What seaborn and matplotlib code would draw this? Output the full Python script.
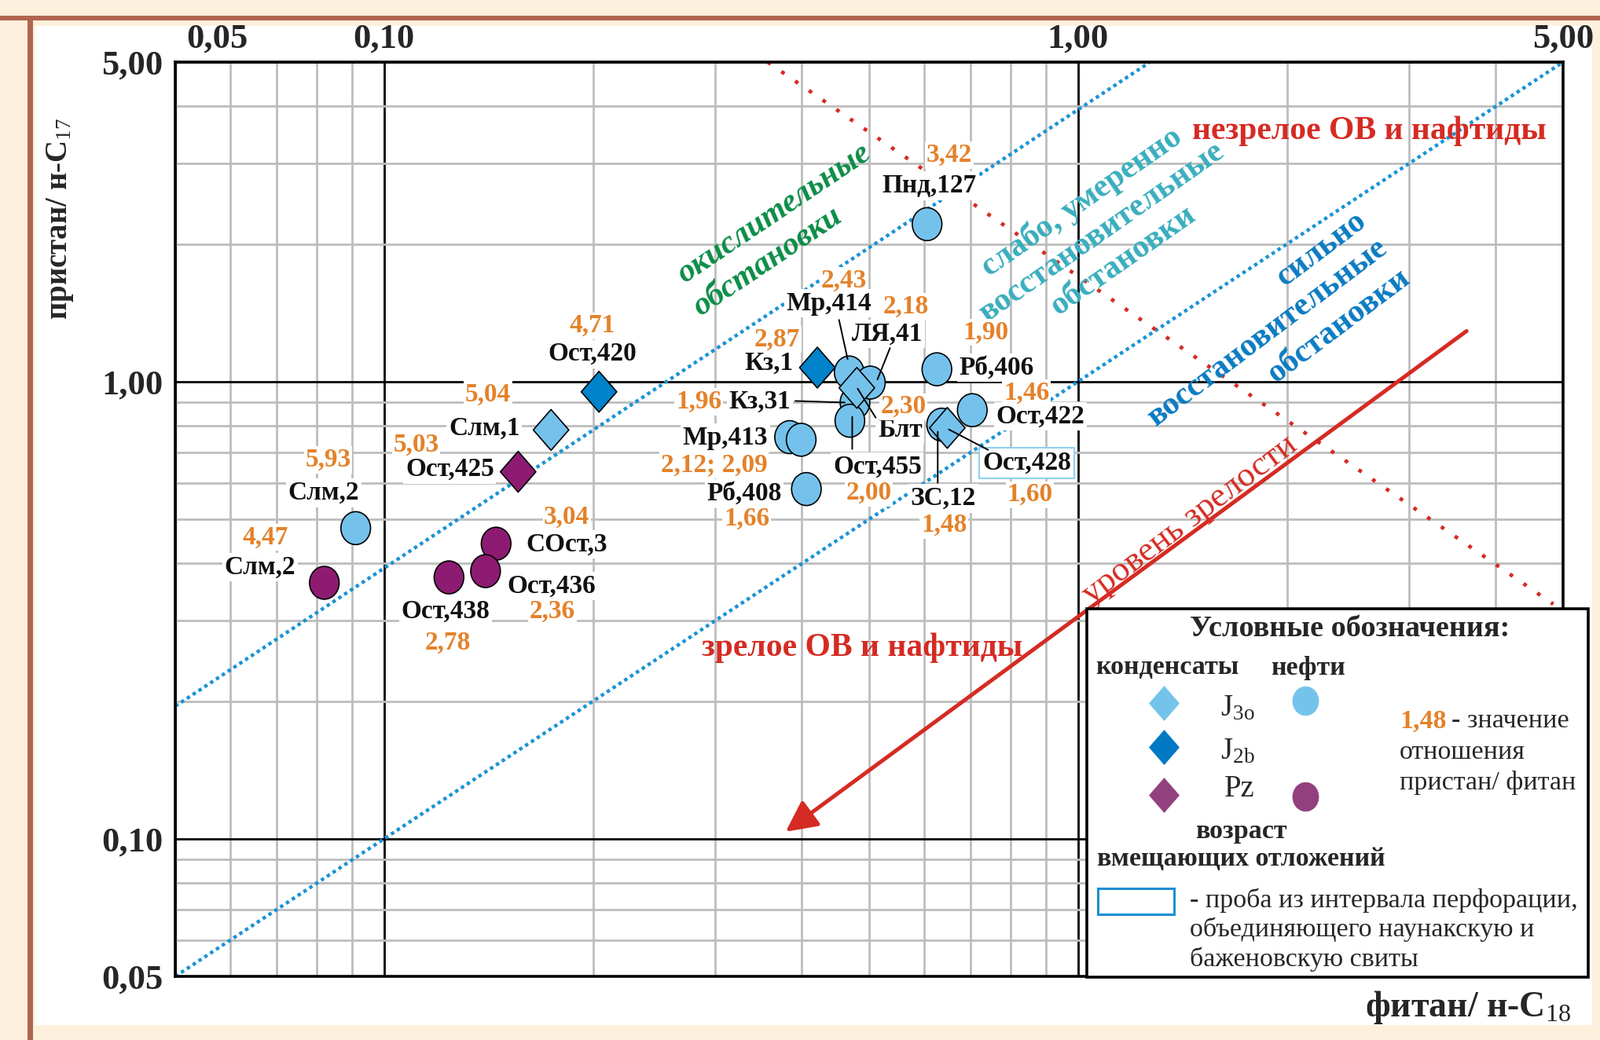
import pandas as pd
import seaborn as sns
import matplotlib.pyplot as plt
import matplotlib.transforms as mtransforms
from matplotlib.path import Path
from matplotlib.patches import Rectangle
from matplotlib.lines import Line2D

# ---- values ----
sample = ["Слм,2", "Слм,2", "Ост,425", "Слм,1", "Ост,420", "Ост,438", "СОст,3", "Ост,436",
          "Кз,1", "Мр,413", "Мр,413", "Рб,408", "Кз,31", "Ост,455", "Мр,414", "ЛЯ,41",
          "Блт", "Рб,406", "ЗС,12", "Ост,422", "Ост,428", "Пнд,127"]
phytane_c18 = [0.082, 0.091, 0.156, 0.174, 0.204, 0.124, 0.145, 0.140,
               0.421, 0.384, 0.399, 0.406, 0.477, 0.469, 0.468, 0.502,
               0.480, 0.626, 0.636, 0.704, 0.648, 0.606]
pristane_c17 = [0.363, 0.478, 0.635, 0.784, 0.950, 0.373, 0.442, 0.385,
                1.073, 0.756, 0.746, 0.582, 0.900, 0.821, 1.047, 0.995,
                0.969, 1.064, 0.805, 0.866, 0.792, 2.21]
pr_ph = [4.47, 5.93, 5.03, 5.04, 4.71, 2.78, 3.04, 2.36,
         2.87, 2.12, 2.09, 1.66, 1.96, 2.00, 2.43, 2.18,
         2.30, 1.90, 1.48, 1.46, 1.60, 3.42]
fluid = ["нефть", "нефть", "конденсат", "конденсат", "конденсат", "нефть", "нефть", "нефть",
         "конденсат", "нефть", "нефть", "нефть", "нефть", "нефть", "нефть", "нефть",
         "конденсат", "нефть", "нефть", "нефть", "конденсат", "нефть"]
age = ["Pz", "J3o", "Pz", "J3o", "J2b", "Pz", "Pz", "Pz",
       "J2b", "J3o", "J3o", "J3o", "J3o", "J3o", "J3o", "J3o",
       "J3o", "J3o", "J3o", "J3o", "J3o", "J3o"]

# boundary lines (end points)
oxic_x, oxic_y = [0.05, 1.27], [0.195, 5.0]
reduc_x, reduc_y = [0.05, 5.0], [0.05, 5.0]
mature_x, mature_y = [0.357, 4.84], [5.0, 0.326]
arrow_from, arrow_to = (3.63, 1.29), (0.379, 0.1036)

x_ticks = [0.05, 0.1, 1.0, 5.0]
x_tick_labels = ["0,05", "0,10", "1,00", "5,00"]
y_ticks = [0.05, 0.1, 1.0, 5.0]
y_tick_labels = ["0,05", "0,10", "1,00", "5,00"]
minor_ticks = [0.06, 0.07, 0.08, 0.09, 0.2, 0.3, 0.4, 0.5, 0.6, 0.7, 0.8, 0.9, 2, 3, 4]

df = pd.DataFrame({"sample": sample, "ph": phytane_c18, "pr": pristane_c17,
                   "ratio": pr_ph, "fluid": fluid, "age": age})

# ---- layout (pixel offsets of labels from their point, y downwards) ----
name_off = [(-82, -20), (-41, -45), (-87, -3), (-85, -2), (-8, -48), (-4, 43), (90, 1), (84, 19),
            (-62, -6), (-82, 1), None, (-79, 6), (-121, -1), (35, 59), (-26, -88), (22, -62),
            (55, 54), (76, -2), (2, 94), (87, 8), (101, 45), (3, -49)]
num_off = [(-75, -58), (-35, -87), (-130, -34), (-80, -45), (-9, -84), (-1, 83), (90, -34), (85, 51),
           (-51, -36), (-96, 35), None, (-76, 38), (-199, -1), (24, 92), (-7, -117), (45, -97),
           (59, 24), (62, -47), (3, 128), (69, -22), (105, 85), (28, -88)]
leaders = {14: ((-13, -67), (-2, -17)), 15: ((25, -44), (9, -4)), 12: ((-76, -2), (-13, 0)),
           16: ((24, 38), (1, 1)), 13: ((3, 36), (3, -5)), 18: ((-5, 74), (-5, 9)),
           20: ((52, 28), (2, 2))}
boxed = {20}

light_blue, dark_blue, purple = "#74C2EC", "#0083CA", "#8E1B72"
orange, red, dot_blue = "#E4822A", "#D52B23", "#1A93D6"

sns.set_style("white")
plt.rcParams["font.family"] = ["Liberation Serif", "DejaVu Serif"]
plt.rcParams["mathtext.fontset"] = "custom"
plt.rcParams["mathtext.rm"] = "Liberation Serif"
plt.rcParams["mathtext.it"] = "Liberation Serif:italic"
plt.rcParams["mathtext.bf"] = "Liberation Serif:bold"

W, H = 2036, 1324
AX_L, AX_R, AX_T, AX_B = 223, 1989, 79, 1243

fig = plt.figure(figsize=(W / 100, H / 100), dpi=100, facecolor="#FDF0DC")


def fpos(X, Y):
    return X / W, 1 - Y / H


def apos(X, Y):
    return (X - AX_L) / (AX_R - AX_L), (AX_B - Y) / (AX_B - AX_T)


# page frame
fig.add_artist(Rectangle(fpos(45, 1305), (2026 - 45) / W, (1305 - 33) / H,
                         transform=fig.transFigure, fc="white", ec="none", zorder=-5))
fig.add_artist(Rectangle(fpos(0, 26), 1, 6 / H, transform=fig.transFigure,
                         fc="#B0654F", ec="none", zorder=-4))
fig.add_artist(Rectangle(fpos(35, H), 7 / W, (H - 20) / H, transform=fig.transFigure,
                         fc="#B0654F", ec="none", zorder=-4))

ax = fig.add_axes([AX_L / W, 1 - AX_B / H, (AX_R - AX_L) / W, (AX_B - AX_T) / H])
ax.set_facecolor("white")
ax.set_xscale("log")
ax.set_yscale("log")
ax.set_xlim(0.05, 5)
ax.set_ylim(0.05, 5)

ax.set_xticks(x_ticks, labels=x_tick_labels)
ax.set_yticks(y_ticks, labels=y_tick_labels)
ax.set_xticks(minor_ticks, minor=True)
ax.set_yticks(minor_ticks, minor=True)
ax.xaxis.set_minor_formatter(plt.NullFormatter())
ax.yaxis.set_minor_formatter(plt.NullFormatter())
ax.xaxis.tick_top()
ax.tick_params(axis="x", which="both", length=0, pad=7, labelsize=32)
ax.tick_params(axis="y", which="both", length=0, pad=11, labelsize=32)
for t in ax.get_xticklabels() + ax.get_yticklabels():
    t.set_fontweight("bold")
first = ax.get_xticklabels()[0]
first.set_horizontalalignment("left")
first.set_transform(first.get_transform() + mtransforms.ScaledTranslation(0.14, 0, fig.dpi_scale_trans))
ax.grid(which="minor", color="#BDBDBD", lw=2.0)
ax.grid(which="major", color="black", lw=2.0)
ax.set_axisbelow(True)
for s in ax.spines.values():
    s.set_linewidth(2.6)
    s.set_color("black")

ax.set_xlabel("фитан/ н-С$_{18}$", fontsize=33, fontweight="bold", ha="right", va="top")
ax.xaxis.set_label_coords(1.006, -0.014)
ax.set_ylabel("пристан/ н-С$_{17}$", fontsize=28, fontweight="bold")
ax.yaxis.set_label_coords(-0.072, 0.829)

# boundary lines
ax.plot(oxic_x, oxic_y, color=dot_blue, lw=3.2, dashes=(1, 1.0), zorder=2)
ax.plot(reduc_x, reduc_y, color=dot_blue, lw=3.2, dashes=(1, 1.0), zorder=2)
ax.plot(mature_x, mature_y, color=red, lw=3.4, dashes=(1, 3.5), zorder=2)
ax.annotate("", xy=arrow_to, xytext=arrow_from,
            arrowprops=dict(arrowstyle="-|>,head_length=0.6,head_width=0.3", color=red,
                            lw=3.6, mutation_scale=40, shrinkA=0, shrinkB=0), zorder=3)

# region captions
captions = [
    ("окислительные", 985, 272, 34, "#0B8D47", "italic"),
    ("обстановки", 977, 333, 34, "#0B8D47", "italic"),
    ("слабо, умеренно", 1376, 257, 35, "#39AEBE", "normal"),
    ("восстановительные", 1402, 295, 35, "#39AEBE", "normal"),
    ("обстановки", 1429, 332, 35, "#39AEBE", "normal"),
    ("сильно", 1682, 317, 37, "#0B7BC2", "normal"),
    ("восстановительные", 1613, 423, 37, "#0B7BC2", "normal"),
    ("обстановки", 1704, 415, 37, "#0B7BC2", "normal"),
]
for txt, X, Y, ang, col, st in captions:
    ax.text(*apos(X, Y), txt, transform=ax.transAxes, rotation=ang, rotation_mode="anchor",
            ha="center", va="center", color=col, fontsize=30, fontweight="bold", style=st, zorder=3)
ax.text(*apos(1742, 167), "незрелое ОВ и нафтиды", transform=ax.transAxes, ha="center",
        va="center", color=red, fontsize=30, fontweight="bold", zorder=3)
ax.text(*apos(1097, 825), "зрелое ОВ и нафтиды", transform=ax.transAxes, ha="center",
        va="center", color=red, fontsize=30, fontweight="bold", zorder=3)
ax.text(*apos(1514, 662), "уровень зрелости", transform=ax.transAxes, rotation=37,
        rotation_mode="anchor", ha="center", va="center", color=red, fontsize=32, zorder=3)

# points
circle = Path.unit_circle()
marker_paths = {"нефть": Path(circle.vertices * [0.9, 1.0], circle.codes),
                "конденсат": Path([(0, 1), (0.87, 0), (0, -1), (-0.87, 0), (0, 1)], closed=True)}
sns.scatterplot(data=df, x="ph", y="pr", hue="age", style="fluid", size="fluid",
                palette={"J3o": light_blue, "J2b": dark_blue, "Pz": purple},
                markers=marker_paths, sizes={"нефть": 910, "конденсат": 1400},
                edgecolor="black", linewidth=1.2, legend=False, ax=ax, zorder=5)
ax.set_xlim(0.05, 5)
ax.set_ylim(0.05, 5)

# sample names and Pr/Ph values
for i, row in df.iterrows():
    p = (row["ph"], row["pr"])
    if name_off[i] is not None:
        dx, dy = name_off[i]
        bb = dict(boxstyle="square,pad=0.08", fc="white", ec="none")
        if i in boxed:
            bb = dict(boxstyle="square,pad=0.12", fc="white", ec="#8FD0EE", lw=1.5)
        ax.annotate(row["sample"], xy=p, xytext=(dx, -dy), textcoords="offset pixels",
                    ha="center", va="center", fontsize=24, fontweight="bold", color="#111111",
                    bbox=bb, zorder=4)
    if num_off[i] is not None:
        dx, dy = num_off[i]
        val = f"{row['ratio']:.2f}".replace(".", ",")
        if row["sample"] == "Мр,413":
            val = "; ".join(f"{v:.2f}".replace(".", ",") for v in df.loc[df["sample"] == "Мр,413", "ratio"])
        ax.annotate(val, xy=p, xytext=(dx, -dy), textcoords="offset pixels",
                    ha="center", va="center", fontsize=24, fontweight="bold", color=orange,
                    bbox=dict(boxstyle="square,pad=0.05", fc="white", ec="none"), zorder=4)


def shifted(dx, dy):
    return mtransforms.offset_copy(ax.transData, fig=fig, x=dx, y=-dy, units="dots")


for i, (a, b) in leaders.items():
    p = (df.loc[i, "ph"], df.loc[i, "pr"])
    ax.annotate("", xy=p, xycoords=shifted(*b), xytext=p, textcoords=shifted(*a),
                arrowprops=dict(arrowstyle="-", lw=1.4, color="black", shrinkA=0, shrinkB=0),
                zorder=6)

# legend box
fig.add_artist(Rectangle(fpos(1383, 1244), (2021 - 1383) / W, (1244 - 775) / H,
                         transform=fig.transFigure, fc="white", ec="black", lw=2.6, zorder=10))


def ftext(X, Y, s, **kw):
    kw.setdefault("ha", "center")
    kw.setdefault("va", "center")
    fig.text(*fpos(X, Y), s, zorder=11, **kw)


def fmark(X, Y, path, size, col):
    fig.add_artist(Line2D([X / W], [1 - Y / H], transform=fig.transFigure, marker=path,
                          markersize=size, mfc=col, mec=col, mew=0.5, ls="none", zorder=11))


ftext(1718, 800, "Условные обозначения:", fontsize=27.5, fontweight="bold")
ftext(1485, 850, "конденсаты", fontsize=24.5, fontweight="bold")
ftext(1664, 850, "нефти", fontsize=24.5, fontweight="bold")
fmark(1481, 895, marker_paths["конденсат"], 31.5, "#74C3EB")
fmark(1481, 951, marker_paths["конденсат"], 31.5, "#0078C3")
fmark(1481, 1012, marker_paths["конденсат"], 31.5, "#93407E")
fmark(1661, 892, marker_paths["нефть"], 26.5, "#74C3EB")
fmark(1661, 1014, marker_paths["нефть"], 26.5, "#93407E")
ftext(1575, 902, r"J$_{\mathrm{3o}}$", fontsize=28)
ftext(1575, 957, r"J$_{\mathrm{2b}}$", fontsize=28)
ftext(1577, 1005, "Pz", fontsize=28)
ftext(1579, 1058, "возраст", fontsize=24.5, fontweight="bold")
ftext(1579, 1093, "вмещающих отложений", fontsize=24.5, fontweight="bold")
ftext(1781, 918, "1,48", fontsize=24.5, fontweight="bold", color=orange, ha="left")
ftext(1847, 918, "- значение", fontsize=24.5, ha="left")
ftext(1781, 958, "отношения", fontsize=24.5, ha="left")
ftext(1781, 996, "пристан/ фитан", fontsize=24.5, ha="left")
fig.add_artist(Rectangle(fpos(1397, 1164), 97 / W, 33 / H, transform=fig.transFigure,
                         fc="white", ec="#1E8FD2", lw=2.2, zorder=11))
ftext(1514, 1146, "- проба из интервала перфорации,", fontsize=24.5, ha="left")
ftext(1514, 1183, "объединяющего наунакскую и", fontsize=24.5, ha="left")
ftext(1514, 1221, "баженовскую свиты", fontsize=24.5, ha="left")

fig.savefig("out.png", dpi=100, facecolor=fig.get_facecolor())
